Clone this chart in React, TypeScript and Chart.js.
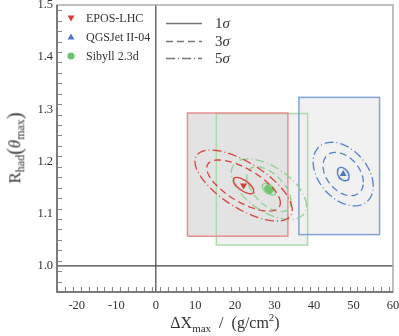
import React, { useEffect, useRef } from "react";
import { Chart, registerables } from "chart.js";
Chart.register(...registerables);

// ---- data ----
const X_MIN = -25;
const X_MAX = 60;
const Y_MIN = 0.95;
const Y_MAX = 1.5;
const xTickValues = [-20, -10, 0, 10, 20, 30, 40, 50, 60];
const yTickValues = [1.0, 1.1, 1.2, 1.3, 1.4, 1.5];
const xMinorStep = 2;
const yMinorStep = 0.02;

const models = ["EPOS-LHC", "QGSJet II-04", "Sibyll 2.3d"];
const modelColors = ["#d93a34", "#4a78c2", "#6cc46c"];
const contourColors = ["#d9433d", "#5582c8", "#8fd28f"];
const boxBorderColors = ["#e89090", "#84a2d3", "#a9dca9"];
const boxFillColors = ["#e3e3e3", "#f1f1f1", "#f1f1f1"];
const centerX = [22.2, 47.4, 28.6];
const centerY = [1.154, 1.176, 1.147];
const boxXLow = [8.0, 36.2, 15.3];
const boxXHigh = [33.4, 56.6, 38.4];
const boxYLow = [1.057, 1.060, 1.040];
const boxYHigh = [1.293, 1.323, 1.292];

const sigmaLabels = ["1σ", "3σ", "5σ"];
const sigmaDash: number[][] = [[], [7, 4], [9, 3, 1, 3]];
// contour half extents (x in g/cm2, y in R units) for 1σ,3σ,5σ
const eposHalfX = [2.6, 9.3, 12.3];
const eposHalfY = [0.0157, 0.049, 0.068];
const qgsHalfX = [1.5, 5.1, 7.6];
const qgsHalfY = [0.0128, 0.0415, 0.061];
const sibHalfX = [1.7, 5.6, 9.5];
const sibHalfY = [0.011, 0.043, 0.058];
const modelRho = [-0.68, -0.38, -0.55];
const halfX = [eposHalfX, qgsHalfX, sibHalfX];
const halfY = [eposHalfY, qgsHalfY, sibHalfY];

function contour(cx: number, cy: number, hx: number, hy: number, rho: number) {
  const pts: { x: number; y: number }[] = [];
  const n = 90;
  const s = Math.sqrt(1 - rho * rho);
  for (let i = 0; i <= n; i++) {
    const t = (i / n) * Math.PI * 2;
    pts.push({ x: cx + hx * Math.cos(t), y: cy + hy * (rho * Math.cos(t) + s * Math.sin(t)) });
  }
  return pts;
}

const FONT = "'Liberation Serif', 'Times New Roman', serif";

const decorPlugin = {
  id: "decor",
  beforeDatasetsDraw(chart: any) {
    const { ctx, chartArea: a, scales } = chart;
    const xs = scales.x, ys = scales.y;
    ctx.save();
    const order = [2, 1, 0];
    order.forEach((i) => {
      const x0 = xs.getPixelForValue(boxXLow[i]);
      const x1 = xs.getPixelForValue(boxXHigh[i]);
      const y0 = ys.getPixelForValue(boxYHigh[i]);
      const y1 = ys.getPixelForValue(boxYLow[i]);
      ctx.fillStyle = boxFillColors[i];
      ctx.fillRect(x0, y0, x1 - x0, y1 - y0);
    });
    order.forEach((i) => {
      const x0 = xs.getPixelForValue(boxXLow[i]);
      const x1 = xs.getPixelForValue(boxXHigh[i]);
      const y0 = ys.getPixelForValue(boxYHigh[i]);
      const y1 = ys.getPixelForValue(boxYLow[i]);
      ctx.strokeStyle = boxBorderColors[i];
      ctx.lineWidth = 1.5;
      ctx.strokeRect(x0, y0, x1 - x0, y1 - y0);
    });
    ctx.strokeStyle = "#444";
    ctx.lineWidth = 1.2;
    const x0p = xs.getPixelForValue(0);
    const y1p = ys.getPixelForValue(1.0);
    ctx.beginPath();
    ctx.moveTo(x0p, a.top);
    ctx.lineTo(x0p, a.bottom);
    ctx.moveTo(a.left, y1p);
    ctx.lineTo(a.right, y1p);
    ctx.stroke();
    ctx.restore();
  },
  afterDatasetsDraw(chart: any) {
    const { ctx, chartArea: a, scales } = chart;
    const xs = scales.x, ys = scales.y;
    ctx.save();
    ctx.strokeStyle = "#888";
    ctx.lineWidth = 1;
    ctx.beginPath();
    for (let v = X_MIN; v <= X_MAX + 1e-9; v += xMinorStep) {
      const major = xTickValues.some((t) => Math.abs(t - v) < 1e-6);
      const px = Math.round(xs.getPixelForValue(v)) + 0.5;
      ctx.moveTo(px, a.bottom);
      ctx.lineTo(px, a.bottom - (major ? 9 : 5));
    }
    for (let v = Y_MIN; v <= Y_MAX + 1e-9; v += yMinorStep) {
      const major = yTickValues.some((t) => Math.abs(t - v) < 1e-6);
      const py = Math.round(ys.getPixelForValue(v)) + 0.5;
      ctx.moveTo(a.left, py);
      ctx.lineTo(a.left + (major ? 10 : 5), py);
    }
    ctx.stroke();
    ctx.strokeStyle = "#aaa";
    ctx.lineWidth = 1.5;
    ctx.strokeRect(a.left, a.top, a.right - a.left, a.bottom - a.top);
    ctx.strokeStyle = "#666";
    ctx.beginPath();
    ctx.moveTo(a.left, a.top);
    ctx.lineTo(a.left, a.bottom);
    ctx.lineTo(a.right, a.bottom);
    ctx.stroke();

    const lx = 71;
    const rows = [18, 37, 56];
    ctx.fillStyle = modelColors[0];
    ctx.beginPath();
    ctx.moveTo(lx - 3.5, rows[0] - 2.5);
    ctx.lineTo(lx + 3.5, rows[0] - 2.5);
    ctx.lineTo(lx, rows[0] + 3.5);
    ctx.closePath();
    ctx.fill();
    ctx.fillStyle = modelColors[1];
    ctx.beginPath();
    ctx.moveTo(lx - 3.5, rows[1] + 2.5);
    ctx.lineTo(lx + 3.5, rows[1] + 2.5);
    ctx.lineTo(lx, rows[1] - 3.5);
    ctx.closePath();
    ctx.fill();
    ctx.fillStyle = modelColors[2];
    ctx.beginPath();
    ctx.arc(lx, rows[2], 3.6, 0, Math.PI * 2);
    ctx.fill();
    const srows = [23, 41, 58];
    ctx.strokeStyle = "#777";
    ctx.lineWidth = 1.3;
    srows.forEach((y, i) => {
      ctx.setLineDash(sigmaDash[i]);
      ctx.beginPath();
      ctx.moveTo(166, y + 0.5);
      ctx.lineTo(202, y + 0.5);
      ctx.stroke();
    });
    ctx.setLineDash([]);
    ctx.restore();
  },
};

export default function App() {
  const ref = useRef<HTMLCanvasElement>(null);
  useEffect(() => {
    if (!ref.current) return;
    const datasets: any[] = [];
    models.forEach((m, i) => {
      sigmaLabels.forEach((s, j) => {
        datasets.push({
          label: m + " " + s,
          data: contour(centerX[i], centerY[i], halfX[i][j], halfY[i][j], modelRho[i]),
          showLine: true,
          pointRadius: 0,
          borderColor: contourColors[i],
          borderWidth: 1.3,
          borderDash: sigmaDash[j],
          fill: false,
          tension: 0,
        });
      });
    });
    const styles = ["triangle", "triangle", "circle"];
    const rot = [180, 0, 0];
    const radius = [4, 4, 5];
    models.forEach((m, i) => {
      datasets.push({
        label: m,
        data: [{ x: centerX[i], y: centerY[i] }],
        showLine: false,
        pointStyle: styles[i],
        rotation: rot[i],
        pointRadius: radius[i],
        pointBackgroundColor: modelColors[i],
        pointBorderColor: modelColors[i],
        pointBorderWidth: 0,
      });
    });
    const tickFont = { family: FONT, size: 12.5 };
    const chart = new Chart(ref.current, {
      type: "scatter",
      data: { datasets },
      options: {
        responsive: false,
        animation: false,
        devicePixelRatio: 1,
        layout: { padding: { left: 0, right: 6, top: 5, bottom: 0 } },
        plugins: { legend: { display: false }, tooltip: { enabled: false } },
        scales: {
          x: {
            type: "linear",
            min: X_MIN,
            max: X_MAX,
            grid: { display: false, drawTicks: false },
            border: { display: false },
            ticks: { font: tickFont, color: "#333", padding: 6, maxRotation: 0 },
            afterBuildTicks: (s: any) => {
              s.ticks = xTickValues.map((v) => ({ value: v }));
            },
            afterFit: (s: any) => {
              s.height = 44;
              s.paddingLeft = 0;
              s.paddingRight = 0;
            },
          },
          y: {
            type: "linear",
            min: Y_MIN,
            max: Y_MAX,
            grid: { display: false, drawTicks: false },
            border: { display: false },
            ticks: {
              font: tickFont,
              color: "#333",
              padding: 4,
              callback: (v: any) => Number(v).toFixed(1),
            },
            afterBuildTicks: (s: any) => {
              s.ticks = yTickValues.map((v) => ({ value: v }));
            },
            afterFit: (s: any) => {
              s.width = 57;
              s.paddingTop = 0;
              s.paddingBottom = 0;
            },
          },
        },
      },
      plugins: [decorPlugin],
    } as any);
    return () => chart.destroy();
  }, []);

  const txt: React.CSSProperties = {
    position: "absolute",
    fontFamily: FONT,
    color: "#333",
    whiteSpace: "nowrap",
    lineHeight: 1,
  };
  const legendRows = [18, 37, 56];
  const sigmaRows = [23, 41, 58];
  const paren: React.CSSProperties = { fontSize: 20, position: "relative", top: 1 };
  return (
    <div style={{ position: "absolute", left: 0, top: 0, width: 399, height: 336, background: "#fff", overflow: "hidden" }}>
      <canvas ref={ref} width={399} height={336} style={{ position: "absolute", left: 0, top: 0, width: 399, height: 336 }} />
      {models.map((m, i) => (
        <div key={m} style={{ ...txt, left: 86, top: legendRows[i], transform: "translateY(-50%)", fontSize: 12 }}>
          {m}
        </div>
      ))}
      {sigmaLabels.map((s, i) => (
        <div key={s} style={{ ...txt, left: 215, top: sigmaRows[i], transform: "translateY(-50%)", fontSize: 15 }}>
          {s.charAt(0)}
          <i>σ</i>
        </div>
      ))}
      <div
        style={{
          ...txt,
          left: 15,
          top: 148,
          transform: "translate(-50%, -50%) rotate(-90deg)",
          fontSize: 17,
        }}
      >
        R<sub style={{ fontSize: 12 }}>had</sub>
        <span style={paren}>(</span>
        <i>θ</i>
        <sub style={{ fontSize: 12 }}>max</sub>
        <span style={paren}>)</span>
      </div>
      <div style={{ ...txt, left: 225, top: 323, transform: "translate(-50%, -50%)", fontSize: 16 }}>
        ΔX<sub style={{ fontSize: 11 }}>max</sub>&nbsp; /&nbsp; (g/cm<sup style={{ fontSize: 11 }}>2</sup>)
      </div>
    </div>
  );
}
